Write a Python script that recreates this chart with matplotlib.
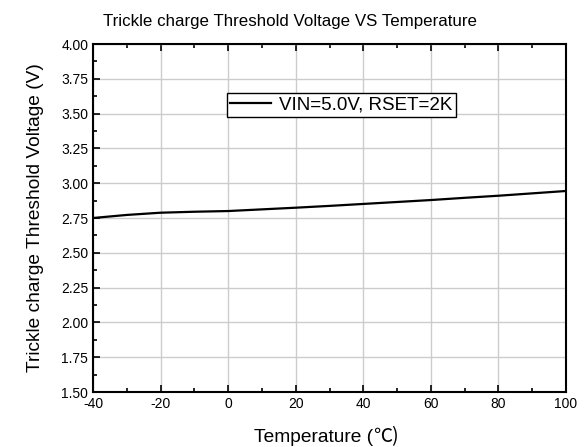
import matplotlib.pyplot as plt
from matplotlib.ticker import MultipleLocator

plt.rcParams['font.family'] = ['Liberation Sans', 'Noto Sans CJK SC', 'DejaVu Sans']
plt.rcParams['axes.unicode_minus'] = False

# temperature (C) and trickle charge threshold voltage (V)
temp = [-40, -30, -20, -10, 0, 10, 20, 30, 40, 50, 60, 70, 80, 90, 100]
vtrk = [2.750, 2.772, 2.788, 2.795, 2.800, 2.812, 2.824, 2.837, 2.851,
        2.865, 2.879, 2.895, 2.910, 2.927, 2.944]
label = 'VIN=5.0V, RSET=2K'

W, H = 588, 447
fig = plt.figure(figsize=(W/100, H/100), dpi=100)
ax = fig.add_axes([93/W, 1-392/H, (566-93)/W, (392-44)/H])

ax.plot(temp, vtrk, color='black', lw=1.6, label=label)

ax.set_xlim(-40, 100)
ax.set_ylim(1.5, 4.0)
ax.xaxis.set_major_locator(MultipleLocator(20))
ax.xaxis.set_minor_locator(MultipleLocator(10))
ax.yaxis.set_major_locator(MultipleLocator(0.25))
ax.yaxis.set_minor_locator(MultipleLocator(0.125))
ax.yaxis.set_major_formatter(lambda v, p: '%.2f' % v)

ax.grid(True, which='major', color='#cccccc', lw=1)
ax.tick_params(which='both', direction='in', top=True, labelsize=10, width=1.2)
ax.tick_params(which='major', length=5)
ax.tick_params(which='minor', length=3)
for s in ax.spines.values():
    s.set_linewidth(1.5)

# axis labels and title
ax.set_ylabel('Trickle charge Threshold Voltage (V)', fontsize=13.8)
ax.yaxis.set_label_coords(-0.104, 0.5)
fig.text(373/W, 1-442/H, 'Temperature (', fontsize=13.8, ha='right', va='baseline')
fig.text(373/W, 1-442/H, '\u2103)', fontsize=13.8, ha='left', va='baseline',
         family=['Noto Sans CJK SC'])
fig.text(290/W, 1-26/H, 'Trickle charge Threshold Voltage VS Temperature',
         fontsize=12.2, ha='center', va='baseline')

leg = ax.legend(loc='upper left', bbox_to_anchor=(0.283, 0.859), fontsize=13.5,
                frameon=True, fancybox=False, edgecolor='black', framealpha=1,
                borderpad=0.18, handlelength=2.2, handletextpad=0.4, borderaxespad=0)
leg.get_frame().set_linewidth(1.0)

fig.savefig('out.png', dpi=100)
